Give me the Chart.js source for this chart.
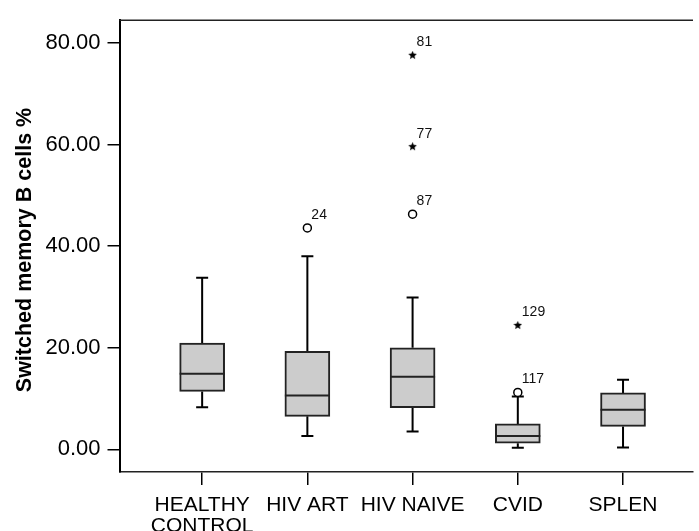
<!DOCTYPE html>
<html>
<head>
<meta charset="utf-8">
<script src="https://cdn.jsdelivr.net/npm/chart.js@4.4.1/dist/chart.umd.min.js"></script>
<style>
    html, body { margin: 0; padding: 0; background: #fff; }
    #wrap { width: 699px; height: 531px; }
</style>
</head>
<body>
<div id="wrap"><canvas id="boxChart" width="699" height="531"></canvas></div>
<script>
// Groups, in axis order (position 1..5 on the x scale)
const groups = [['HEALTHY', 'CONTROL'], 'HIV ART', 'HIV NAIVE', 'CVID', 'SPLEN'];

// Five-number summaries per group
const whiskerLow  = [8.3, 2.6, 3.5, 0.3, 0.35];
const quartile1   = [11.4, 6.5, 8.2, 1.2, 4.5];
const median      = [14.9, 10.6, 14.3, 2.6, 7.8];
const quartile3   = [20.9, 19.3, 20.0, 5.0, 11.1];
const whiskerHigh = [33.8, 38.0, 29.9, 10.4, 13.7];

// Outliers (circles) and extremes (stars) with their case numbers
const outlierGroup = [2, 3, 4];
const outlierValue = [43.6, 46.3, 11.2];
const outlierCase  = ['24', '87', '117'];

const extremeGroup = [3, 3, 4];
const extremeValue = [77.6, 59.6, 24.4];
const extremeCase  = ['81', '77', '129'];

const yTicks = [0, 20, 40, 60, 80];
const yTitle = 'Switched memory B cells %';

const FONT = "'Liberation Sans', Arial, Helvetica, sans-serif";

// small filled star used as the extreme-value marker
function starMarker(size) {
    const c = document.createElement('canvas');
    c.width = c.height = size;
    const g = c.getContext('2d');
    const r = size / 2, inner = r * 0.45;
    g.beginPath();
    for (let k = 0; k < 10; k++) {
        const a = -Math.PI / 2 + k * Math.PI / 5;
        const rr = k % 2 ? inner : r;
        g.lineTo(r + rr * Math.cos(a), r + rr * Math.sin(a));
    }
    g.closePath();
    g.fillStyle = '#000';
    g.fill();
    return c;
}

const boxPlot = {
    id: 'boxPlot',
    beforeDatasetsDraw(chart) {
        const { ctx, scales: { x, y } } = chart;
        ctx.save();
        ctx.strokeStyle = '#000';
        ctx.lineWidth = 2;
        groups.forEach((g, i) => {
            const px = x.getPixelForValue(i + 1);
            [[whiskerHigh[i], quartile3[i]], [whiskerLow[i], quartile1[i]]].forEach(([end, edge]) => {
                const ye = y.getPixelForValue(end);
                const yb = y.getPixelForValue(edge);
                ctx.beginPath();
                ctx.moveTo(px, yb);
                ctx.lineTo(px, ye);
                ctx.moveTo(px - 6, ye);
                ctx.lineTo(px + 6, ye);
                ctx.stroke();
            });
        });
        ctx.restore();
    },
    afterDatasetsDraw(chart) {
        const { ctx, chartArea, scales: { x, y } } = chart;
        ctx.save();
        // medians
        ctx.strokeStyle = '#222';
        ctx.lineWidth = 2;
        groups.forEach((g, i) => {
            const px = x.getPixelForValue(i + 1);
            const py = y.getPixelForValue(median[i]);
            ctx.beginPath();
            ctx.moveTo(px - 22.5, py);
            ctx.lineTo(px + 22.5, py);
            ctx.stroke();
        });
        // case numbers next to outliers and extremes
        ctx.fillStyle = '#111';
        ctx.font = '14px ' + FONT;
        ctx.textAlign = 'left';
        ctx.textBaseline = 'middle';
        const label = (grp, val, txt) => {
            ctx.fillText(txt, x.getPixelForValue(grp) + 4, y.getPixelForValue(val) - 13);
        };
        outlierGroup.forEach((g, i) => label(g, outlierValue[i], outlierCase[i]));
        extremeGroup.forEach((g, i) => label(g, extremeValue[i], extremeCase[i]));
        // top frame line
        ctx.strokeStyle = '#222';
        ctx.lineWidth = 1.5;
        ctx.beginPath();
        ctx.moveTo(chartArea.left, chartArea.top);
        ctx.lineTo(chartArea.right, chartArea.top);
        ctx.stroke();
        // y axis title
        ctx.translate(25, 250);
        ctx.rotate(-Math.PI / 2);
        ctx.fillStyle = '#000';
        ctx.font = 'bold 21.5px ' + FONT;
        ctx.textAlign = 'center';
        ctx.textBaseline = 'middle';
        ctx.fillText(yTitle, 0, 0);
        ctx.restore();
    }
};

const ctx = document.getElementById('boxChart').getContext('2d');

new Chart(ctx, {
    type: 'bar',
    data: {
        datasets: [
            {
                type: 'bar',
                data: groups.map((g, i) => ({ x: i + 1, y: [quartile1[i], quartile3[i]] })),
                backgroundColor: '#cccccc',
                borderColor: '#222',
                borderWidth: 2,
                borderSkipped: false,
                barThickness: 45,
                order: 2
            },
            {
                type: 'scatter',
                data: outlierGroup.map((g, i) => ({ x: g, y: outlierValue[i] })),
                pointStyle: 'circle',
                pointRadius: 4,
                backgroundColor: '#fff',
                borderColor: '#000',
                borderWidth: 1.5,
                order: 1
            },
            {
                type: 'scatter',
                data: extremeGroup.map((g, i) => ({ x: g, y: extremeValue[i] })),
                pointStyle: starMarker(9),
                pointRadius: 5,
                order: 1
            }
        ]
    },
    options: {
        responsive: false,
        animation: false,
        layout: { padding: { top: 16.5, right: 0, left: 0, bottom: 0 } },
        plugins: {
            legend: { display: false },
            tooltip: { enabled: false }
        },
        scales: {
            x: {
                type: 'linear',
                offset: false,
                min: 0.2145,
                max: 5.665,
                afterBuildTicks: scale => {
                    scale.ticks = groups.map((g, i) => ({ value: i + 1 }));
                },
                afterFit: scale => { scale.height = 59; },
                ticks: {
                    autoSkip: false,
                    maxRotation: 0,
                    padding: 10,
                    color: '#000',
                    font: { family: FONT, size: 21, lineHeight: 1.0 },
                    callback: v => groups[v - 1]
                },
                grid: {
                    offset: false,
                    drawOnChartArea: false,
                    drawTicks: true,
                    tickLength: 13,
                    color: '#000',
                    lineWidth: 1.5
                },
                border: { display: true, color: '#222', width: 1.5 }
            },
            y: {
                type: 'linear',
                min: -4.47,
                max: 84.51,
                afterBuildTicks: scale => {
                    scale.ticks = yTicks.map(v => ({ value: v }));
                },
                afterFit: scale => { scale.width = 119.5; },
                ticks: {
                    padding: 7,
                    color: '#000',
                    font: { family: FONT, size: 22 },
                    callback: v => v.toFixed(2)
                },
                grid: {
                    drawOnChartArea: false,
                    drawTicks: true,
                    tickLength: 12,
                    color: '#000',
                    lineWidth: 1.5
                },
                border: { display: true, color: '#000', width: 2 }
            }
        }
    },
    plugins: [boxPlot]
});
</script>
</body>
</html>
